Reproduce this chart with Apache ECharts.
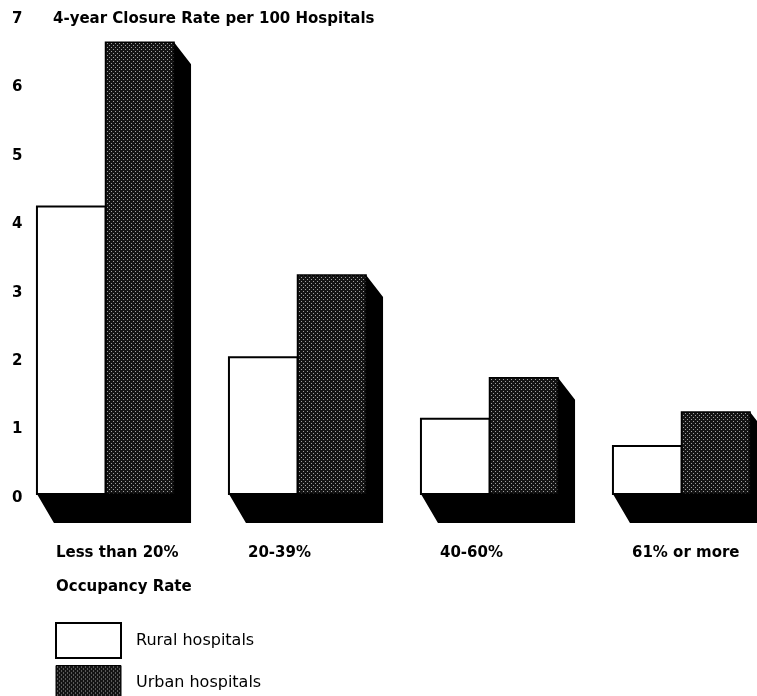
<!DOCTYPE html>
<html>
<head>
<meta charset="utf-8">
<script src="https://cdn.jsdelivr.net/npm/echarts@6/dist/echarts.min.js"></script>
<style>
  html, body { margin: 0; padding: 0; background: #fff; }
  #chart { width: 757px; height: 696px; }
</style>
</head>
<body>
<div id="chart"></div>
<script>
// Hospital closure rates by occupancy rate
const categories = ['Less than 20%', '20-39%', '40-60%', '61% or more'];
const ruralValues = [4.2, 2.0, 1.1, 0.7];
const urbanValues = [6.6, 3.2, 1.7, 1.2];
const yTicks = [0, 1, 2, 3, 4, 5, 6, 7];
const seriesNames = ['Rural hospitals', 'Urban hospitals'];

const BOLD = 'bold 15px "DejaVu Sans"';

// Halftone dot fill for the urban bars
function makeDotPattern() {
  const c = document.createElement('canvas');
  c.width = 4; c.height = 4;
  const g = c.getContext('2d');
  g.fillStyle = '#141414';
  g.fillRect(0, 0, 4, 4);
  g.fillStyle = '#a0a0a0';
  g.fillRect(1, 1, 1, 1);
  g.fillRect(3, 3, 1, 1);
  return c;
}
const dotFill = { image: makeDotPattern(), repeat: 'repeat' };

// Depth of the extruded block (side face and floor shadow)
const DEPTH_X = 17, DEPTH_TOP = 22, DEPTH_BOTTOM = 29;
const BAR_RATIO = 0.357;

// Category spacing: axis runs from the first group centre to the last
function bandWidth(api) {
  return api.size([1, 0])[0];
}

function renderRural(params, api) {
  const idx = api.value(0);
  const top = api.coord([idx, api.value(1)]);
  const base = api.coord([idx, 0]);
  const w = bandWidth(api) * BAR_RATIO;
  return {
    type: 'group',
    children: [
      {
        type: 'rect',
        shape: { x: top[0] - w, y: top[1], width: w, height: base[1] - top[1] },
        style: { fill: '#fff', stroke: '#000', lineWidth: 2 },
        z2: 5
      },
      {
        type: 'text',
        style: {
          text: categories[idx],
          x: top[0] - w + 19, y: base[1] + 59,
          font: BOLD, fill: '#000',
          align: 'left', verticalAlign: 'middle'
        }
      }
    ]
  };
}

function renderUrban(params, api) {
  const idx = api.value(0);
  const top = api.coord([idx, api.value(1)]);
  const base = api.coord([idx, 0]);
  const w = bandWidth(api) * BAR_RATIO;
  const rl = top[0] - w, ur = top[0] + w;
  const by = base[1];
  return {
    type: 'group',
    children: [
      {
        type: 'polygon',
        shape: {
          points: [
            [rl, by], [rl + DEPTH_X, by + DEPTH_BOTTOM],
            [ur + DEPTH_X, by + DEPTH_BOTTOM], [ur + DEPTH_X, top[1] + DEPTH_TOP],
            [ur, top[1]], [ur, by]
          ]
        },
        style: { fill: '#000' },
        z2: 1
      },
      {
        type: 'rect',
        shape: { x: top[0], y: top[1], width: w, height: by - top[1] },
        style: { fill: dotFill, stroke: '#000', lineWidth: 1.5 },
        z2: 3
      }
    ]
  };
}

const chart = echarts.init(document.getElementById('chart'), null, { renderer: 'canvas' });
chart.setOption({
  backgroundColor: '#fff',
  animation: false,
  title: [
    {
      text: '4-year Closure Rate per 100 Hospitals',
      left: 53, top: 9, padding: 0,
      textStyle: { fontFamily: 'DejaVu Sans', fontWeight: 'bold', fontSize: 15, lineHeight: 20, color: '#000' }
    },
    {
      text: 'Occupancy Rate',
      left: 56, top: 577, padding: 0,
      textStyle: { fontFamily: 'DejaVu Sans', fontWeight: 'bold', fontSize: 15, lineHeight: 20, color: '#000' }
    }
  ],
  graphic: [],
  legend: {
    orient: 'vertical',
    left: 55, top: 622,
    height: 80,
    itemWidth: 65, itemHeight: 35, itemGap: 6,
    padding: 0,
    selectedMode: false,
    icon: 'rect',
    textStyle: { fontFamily: 'DejaVu Sans', fontSize: 16, color: '#000', padding: [0, 0, 0, 10] },
    data: [
      { name: seriesNames[0], itemStyle: { color: '#fff', borderColor: '#000', borderWidth: 2 } },
      { name: seriesNames[1], itemStyle: { color: dotFill, borderColor: '#000', borderWidth: 1 } }
    ]
  },
  grid: { left: 105.5, top: 15, width: 576, height: 479, outerBoundsMode: 'none' },
  xAxis: {
    type: 'category',
    data: categories,
    boundaryGap: false,
    axisLine: { show: false },
    axisTick: { show: false },
    axisLabel: { show: false },
    splitLine: { show: false }
  },
  yAxis: {
    type: 'value',
    min: yTicks[0], max: yTicks[yTicks.length - 1], interval: 1,
    axisLine: { show: false },
    axisTick: { show: false },
    splitLine: { show: false },
    axisLabel: {
      margin: 93.5, align: 'left',
      fontFamily: 'DejaVu Sans', fontWeight: 'bold', fontSize: 15, color: '#000',
      verticalAlign: 'top', lineHeight: 8
    }
  },
  series: [
    {
      name: seriesNames[1],
      type: 'custom',
      clip: false,
      renderItem: renderUrban,
      itemStyle: { color: dotFill },
      data: urbanValues.map((v, i) => [i, v]),
      z: 2
    },
    {
      name: seriesNames[0],
      type: 'custom',
      clip: false,
      renderItem: renderRural,
      itemStyle: { color: '#fff' },
      data: ruralValues.map((v, i) => [i, v]),
      z: 3
    }
  ]
});
</script>
</body>
</html>
